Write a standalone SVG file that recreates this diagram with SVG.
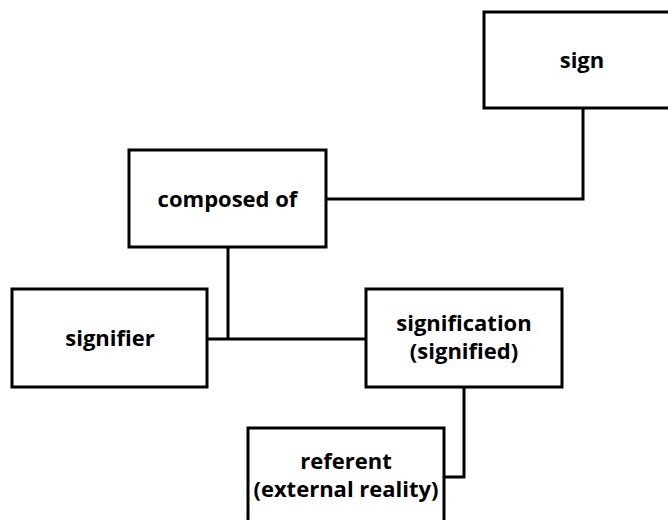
<svg xmlns="http://www.w3.org/2000/svg" width="668" height="520" viewBox="0 0 668 520">
<style>
.box{fill:#fff;stroke:#000;stroke-width:3}
.t{font-family:"Open Sans","Liberation Sans",sans-serif;font-weight:700;font-size:22px;fill:#000;text-anchor:middle}
.c{fill:none;stroke:#000;stroke-width:3}
</style>
<rect width="668" height="520" fill="#fff"/>
<g id="connectors">
<polyline class="c" points="583,108 583,199 326,199"/>
<line class="c" x1="228" y1="247" x2="228" y2="339"/>
<line class="c" x1="207" y1="339" x2="366" y2="339"/>
<polyline class="c" points="464,387 464,477 444,477"/>
</g>
<g id="sign"><rect class="box" x="484" y="12" width="196" height="96"/><text class="t" x="582" y="68">sign</text></g>
<g id="composed"><rect class="box" x="129" y="150" width="197" height="97"/><text class="t" x="227.5" y="207">composed of</text></g>
<g id="signifier"><rect class="box" x="12" y="289" width="195" height="98"/><text class="t" x="110" y="346">signifier</text></g>
<g id="signification"><rect class="box" x="366" y="289" width="196" height="98"/><text class="t" x="464" y="331">signification</text><text class="t" x="464" y="359">(signified)</text></g>
<g id="referent"><rect class="box" x="248" y="428" width="196" height="100"/><text class="t" x="346" y="469">referent</text><text class="t" x="346" y="497">(external reality)</text></g>
</svg>
